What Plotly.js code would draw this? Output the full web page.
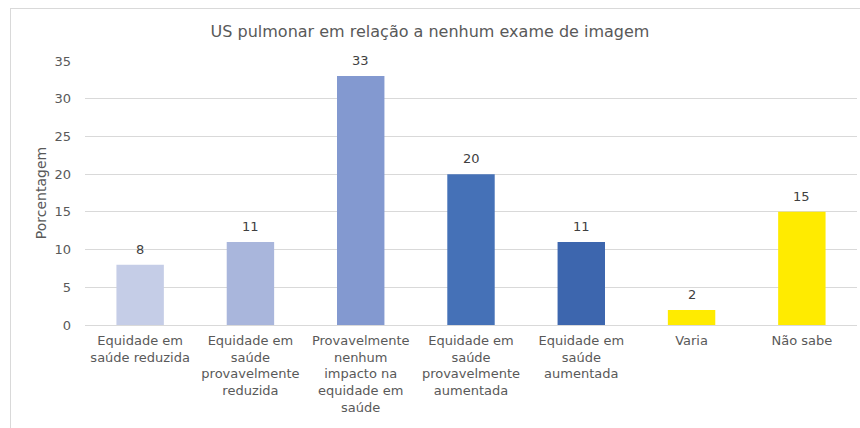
<!DOCTYPE html>
<html>
<head>
<meta charset="utf-8">
<script src="https://cdn.plot.ly/plotly-3.0.1.min.js"></script>
<style>
html,body{margin:0;padding:0;background:#fff;}
#wrap{position:relative;width:860px;height:428px;}
#chart{width:860px;height:428px;}
#frame{position:absolute;left:10px;top:8px;width:860px;height:430px;border-left:1px solid #d9d9d9;border-top:1px solid #d9d9d9;pointer-events:none;}
</style>
</head>
<body>
<div id="wrap"><div id="chart"></div><div id="frame"></div></div>
<script>
const categories = [
  "Equidade em<br>saúde reduzida",
  "Equidade em<br>saúde<br>provavelmente<br>reduzida",
  "Provavelmente<br>nenhum<br>impacto na<br>equidade em<br>saúde",
  "Equidade em<br>saúde<br>provavelmente<br>aumentada",
  "Equidade em<br>saúde<br>aumentada",
  "Varia",
  "Não sabe"
];
const values = [8, 11, 33, 20, 11, 2, 15];
const barColors = ["#C5CDE7", "#A9B6DC", "#8399D0", "#4571B7", "#3D66AE", "#FFEB00", "#FFEB00"];
const yTicks = [0, 5, 10, 15, 20, 25, 30, 35];

const font = "DejaVu Sans, Verdana, sans-serif";

const labels = categories.map((c, i) => ({
  x: c, y: values[i], xref: "x", yref: "y",
  text: String(values[i]), showarrow: false,
  yanchor: "bottom", yshift: 6,
  font: {family: font, size: 13, color: "#404040"}
}));

Plotly.newPlot("chart", [{
  type: "bar",
  x: categories,
  y: values,
  marker: {color: barColors},
  width: 0.43,
  hoverinfo: "none"
}], {
  width: 860, height: 428,
  margin: {l: 85, r: 3, t: 61, b: 103},
  paper_bgcolor: "rgba(0,0,0,0)",
  plot_bgcolor: "rgba(0,0,0,0)",
  title: {text: "US pulmonar em relação a nenhum exame de imagem", font: {family: font, size: 16, color: "#595959"}, x: 0.5, xanchor: "center", yref: "container", y: 0.927, yanchor: "middle"},
  font: {family: font, size: 13, color: "#595959"},
  annotations: labels,
  xaxis: {
    type: "category",
    showgrid: false,
    showline: true, linecolor: "#d9d9d9", linewidth: 1,
    ticks: "", tickfont: {family: font, size: 13, color: "#595959"},
    ticklabelstandoff: 3,
    tickangle: 0
  },
  yaxis: {
    range: [0, 35],
    tickvals: yTicks,
    ticktext: yTicks.map(String),
    showgrid: true, gridcolor: "#d9d9d9", gridwidth: 1,
    zeroline: false,
    ticks: "", ticklen: 0,
    ticklabelstandoff: 13,
    tickfont: {family: font, size: 13, color: "#595959"},
    title: {text: "Porcentagem", font: {family: font, size: 14, color: "#595959"}, standoff: 4}
  },
  showlegend: false,
  bargap: 0.57
}, {displayModeBar: false, staticPlot: true});
</script>
</body>
</html>
